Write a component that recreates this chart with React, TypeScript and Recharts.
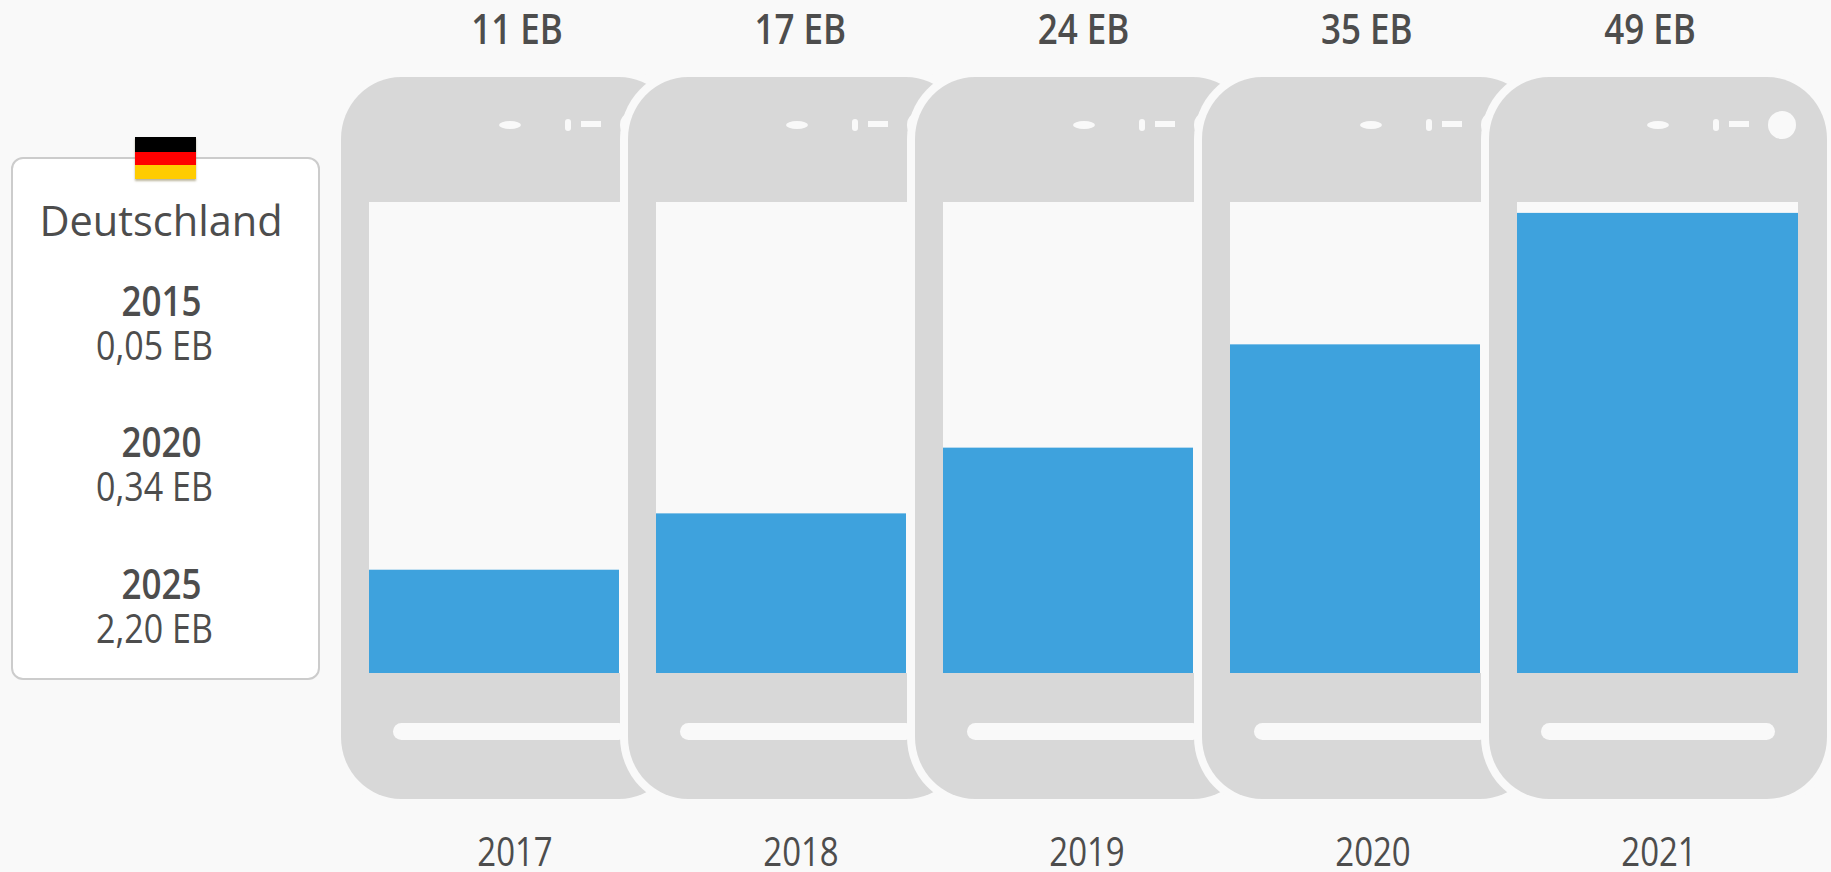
import React from 'react';
import { BarChart, Bar, XAxis, YAxis } from 'recharts';

const years = ['2017', '2018', '2019', '2020', '2021'];
const traffic = [11, 17, 24, 35, 49];
const trafficLabels = ['11 EB', '17 EB', '24 EB', '35 EB', '49 EB'];

const legendYears = ['2015', '2020', '2025'];
const legendValues = ['0,05 EB', '0,34 EB', '2,20 EB'];

const data = years.map((year, i) => ({ year, value: traffic[i], label: trafficLabels[i] }));

const PAGE = '#f9f9f9';
const GREY = '#d8d8d8';
const BLUE = '#3ea2dd';
const TEXT = '#4d4d4d';
const FONT = '"Open Sans", sans-serif';

// the source image is stretched a bit vertically, the text has to follow
const TEXT_STRETCH = 1.2;

// phones overlap, so only the last one shows its whole screen
const lastIndex = years.length - 1;
const CLIPPED_SCREEN = 250;

const PhoneBackground = (props: any) => {
    const { x, y, width, index } = props;
    const left = x - 28;
    const top = y - 126.5;
    const w = 338;
    const h = 722;
    const screenW = index === lastIndex ? width : CLIPPED_SCREEN + 2;
    return (
        <g>
            <rect x={left - 8} y={top - 8} width={w + 16} height={h + 16} rx={68} ry={70} fill={PAGE} />
            <rect x={left} y={top} width={w} height={h} rx={60} ry={62} fill={GREY} />
            <rect x={x} y={y - 1.5} width={screenW} height={471} fill={PAGE} />
            <ellipse cx={left + 169} cy={top + 48} rx={11} ry={4} fill={PAGE} />
            <rect x={left + 224} y={top + 42} width={6} height={12} rx={3} fill={PAGE} />
            <rect x={left + 240} y={top + 44} width={20} height={6} fill={PAGE} />
            <circle cx={left + 293} cy={top + 48} r={14} fill={PAGE} />
            <rect x={left + 52} y={top + 646} width={234} height={17} rx={8.5} fill={PAGE} />
        </g>
    );
};

const ScreenFill = (props: any) => {
    const { x, y, width, height, index } = props;
    return <rect x={x} y={y} width={index === lastIndex ? width : CLIPPED_SCREEN} height={height} fill={BLUE} />;
};

const AxisTick = ({ x, y, payload, index, weight, shift }: any) => (
    <text
        transform={`translate(${x + shift(index)},${y}) scale(1,${TEXT_STRETCH})`}
        textAnchor="middle"
        fontFamily={FONT}
        fontSize={weight > 400 ? 35 : 33}
        fontWeight={weight}
        fill={TEXT}
    >
        {payload.value}
    </text>
);

// labels in the reference are spaced a little tighter than the phones
const topShift = (i: number) => (2 - i) * 3.75;
const bottomShift = (i: number) => lastIndex - i + 1.5;

const legendText: React.CSSProperties = {
    position: 'absolute',
    width: 320,
    left: 0,
    textAlign: 'center',
    fontFamily: FONT,
    color: TEXT,
    whiteSpace: 'nowrap',
    lineHeight: 1,
};

export default function App() {
    return (
        <div style={{ position: 'absolute', left: 0, top: 0, width: 1831, height: 872, background: PAGE, overflow: 'hidden' }}>
            <BarChart
                width={1831}
                height={872}
                data={data}
                margin={{ top: 0, right: 30, bottom: 0, left: 366 }}
                barCategoryGap={3}
            >
                <XAxis
                    xAxisId="top"
                    orientation="top"
                    dataKey="label"
                    height={203.5}
                    axisLine={false}
                    tickLine={false}
                    interval={0}
                    tickMargin={154}
                    tick={<AxisTick weight={600} shift={topShift} />}
                />
                <XAxis
                    dataKey="year"
                    height={199}
                    axisLine={false}
                    tickLine={false}
                    interval={0}
                    tickMargin={187}
                    tick={<AxisTick weight={400} shift={bottomShift} />}
                />
                <YAxis hide domain={[0, 50]} />
                <Bar dataKey="value" barSize={281} isAnimationActive={false} background={PhoneBackground} shape={ScreenFill} />
            </BarChart>

            <div style={{ position: 'absolute', left: 11, top: 157, width: 309, height: 523, boxSizing: 'border-box', background: '#fff', border: '2px solid #cccccc', borderRadius: 12 }} />
            <div style={{ position: 'absolute', left: 135, top: 137, width: 61, height: 42, boxShadow: '0 2px 2px rgba(120,110,60,0.5)' }}>
                <div style={{ height: 15, background: '#000' }} />
                <div style={{ height: 13, background: '#ff0000' }} />
                <div style={{ height: 14, background: '#ffcc00' }} />
            </div>
            <div style={{ ...legendText, left: 1, top: 200, fontSize: 41.5 }}>Deutschland</div>
            {legendYears.map((year, i) => (
                <React.Fragment key={year}>
                    <div style={{ ...legendText, left: 1.5, top: 281.5 + i * 141.5, fontSize: 35, fontWeight: 600, transform: `scaleY(${TEXT_STRETCH})` }}>{year}</div>
                    <div style={{ ...legendText, left: -5.5, top: 326.5 + i * 141.5, fontSize: 34, transform: `scaleY(${TEXT_STRETCH})` }}>{legendValues[i]}</div>
                </React.Fragment>
            ))}
        </div>
    );
}
